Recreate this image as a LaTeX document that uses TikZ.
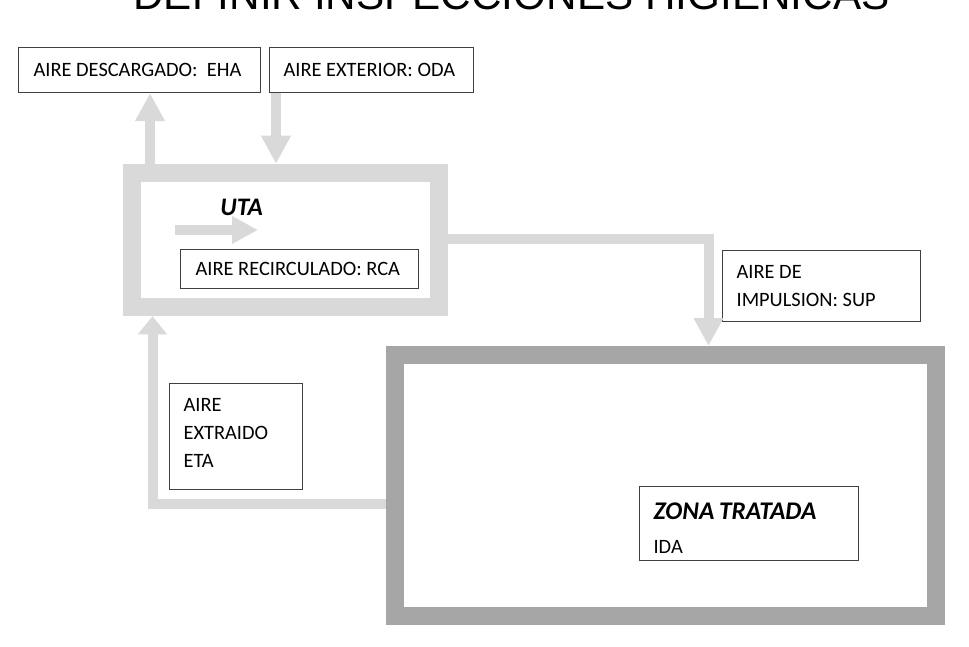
\documentclass[tikz,border=0pt]{standalone}
\usepackage{fontspec}
\newfontfamily\carlito{Carlito}
\newfontfamily\liber{Liberation Sans}
\usetikzlibrary{arrows.meta}
\definecolor{ductgray}{HTML}{D9D9D9}
\definecolor{zonegray}{HTML}{A6A6A6}
\newcommand\boxfont{\carlito\fontsize{10.2pt}{14pt}\selectfont}
\newcommand\zonefont{\carlito\fontsize{10.2pt}{17pt}\selectfont}
\tikzset{
  labelbox/.style={draw=black!75, line width=0.6pt, anchor=north west, align=left,
    inner xsep=7pt, inner ysep=0pt, font=\boxfont,
    execute at begin node={\spaceskip=0.226em\xspaceskip=0.226em\relax}},
  frame/.style={draw=#1, line width=9pt, inner sep=0pt},
  duct/.style={draw=ductgray, line width=5pt, -{Triangle[width=14pt,length=14pt]}},
}
\begin{document}
\begin{tikzpicture}[x=0.5pt,y=-0.5pt]
		\useasboundingbox (0,0) rectangle (969,647);
		\fill [white] (0,0) rectangle (969,647);
		\clip (0,0) rectangle (969,647);
		\node (title) [anchor=base west, inner sep=0pt, font=\liber] at (133,10) {\resizebox{378pt}{!}{DEFINIR INSPECCIONES HIGIENICAS}};
		\node (uta) [frame=ductgray, minimum width=153.25pt, minimum height=67.25pt] at (285.25,240) {};
		\node (zona) [frame=zonegray, minimum width=270.5pt, minimum height=130.5pt] at (665.5,485.5) {};
		\node (eha) [labelbox, text width=106pt, minimum height=22.5pt, inner xsep=7.5pt] at (18,47) {\mbox{AIRE DESCARGADO:\ \ EHA}};
		\node (oda) [labelbox, text width=88pt, minimum height=22.5pt] at (269,47) {\mbox{AIRE EXTERIOR: ODA}};
		\node (rca) [labelbox, text width=104pt, minimum height=19.5pt, inner xsep=7.5pt] at (180,249) {\mbox{AIRE RECIRCULADO: RCA}};
		\node (sup) [labelbox, text width=85pt, minimum height=35.5pt] at (722,250) {AIRE DE\\IMPULSION: SUP};
		\node (eta) [labelbox, text width=52.5pt, minimum height=53pt] at (169,383) {AIRE\\EXTRAIDO\\ETA\rule[-4pt]{0pt}{4pt}};
		\node (zt) [labelbox, text width=95.5pt, minimum height=37pt, font=\zonefont] at (639,486) {{\fontsize{12.7pt}{17pt}\selectfont\bfseries\itshape\rule{0pt}{13.2pt}ZONA TRATADA}\\IDA};
		\node (utalabel) [anchor=west, inner sep=0pt, font=\carlito\fontsize{12.6pt}{14pt}\selectfont\bfseries\itshape] at (220,207) {UTA};
		\coordinate (ehax) at (150,0);
		\coordinate (odax) at (276,0);
		\coordinate (supx) at (708.5,0);
		\coordinate (supy) at (0,238.5);
		\coordinate (etax) at (152.5,0);
		\coordinate (etay) at (0,504);
		\coordinate (rcain) at (175,230);
		\coordinate (rcaout) at (258,230);
		\draw [duct] (uta.north -| ehax) -- (eha.south -| ehax);
		\draw [duct] (oda.south -| odax) -- (uta.north -| odax);
		\draw [duct] (uta.east |- supy) -| (zona.north -| supx);
		\draw [duct, -{Triangle[width=14pt,length=9pt]}] (zona.west |- etay) -| (uta.south -| etax);
		\draw [duct, -{Triangle[width=13pt,length=13pt]}] (rcain) -- (rcaout);
	\end{tikzpicture}
\end{document}
